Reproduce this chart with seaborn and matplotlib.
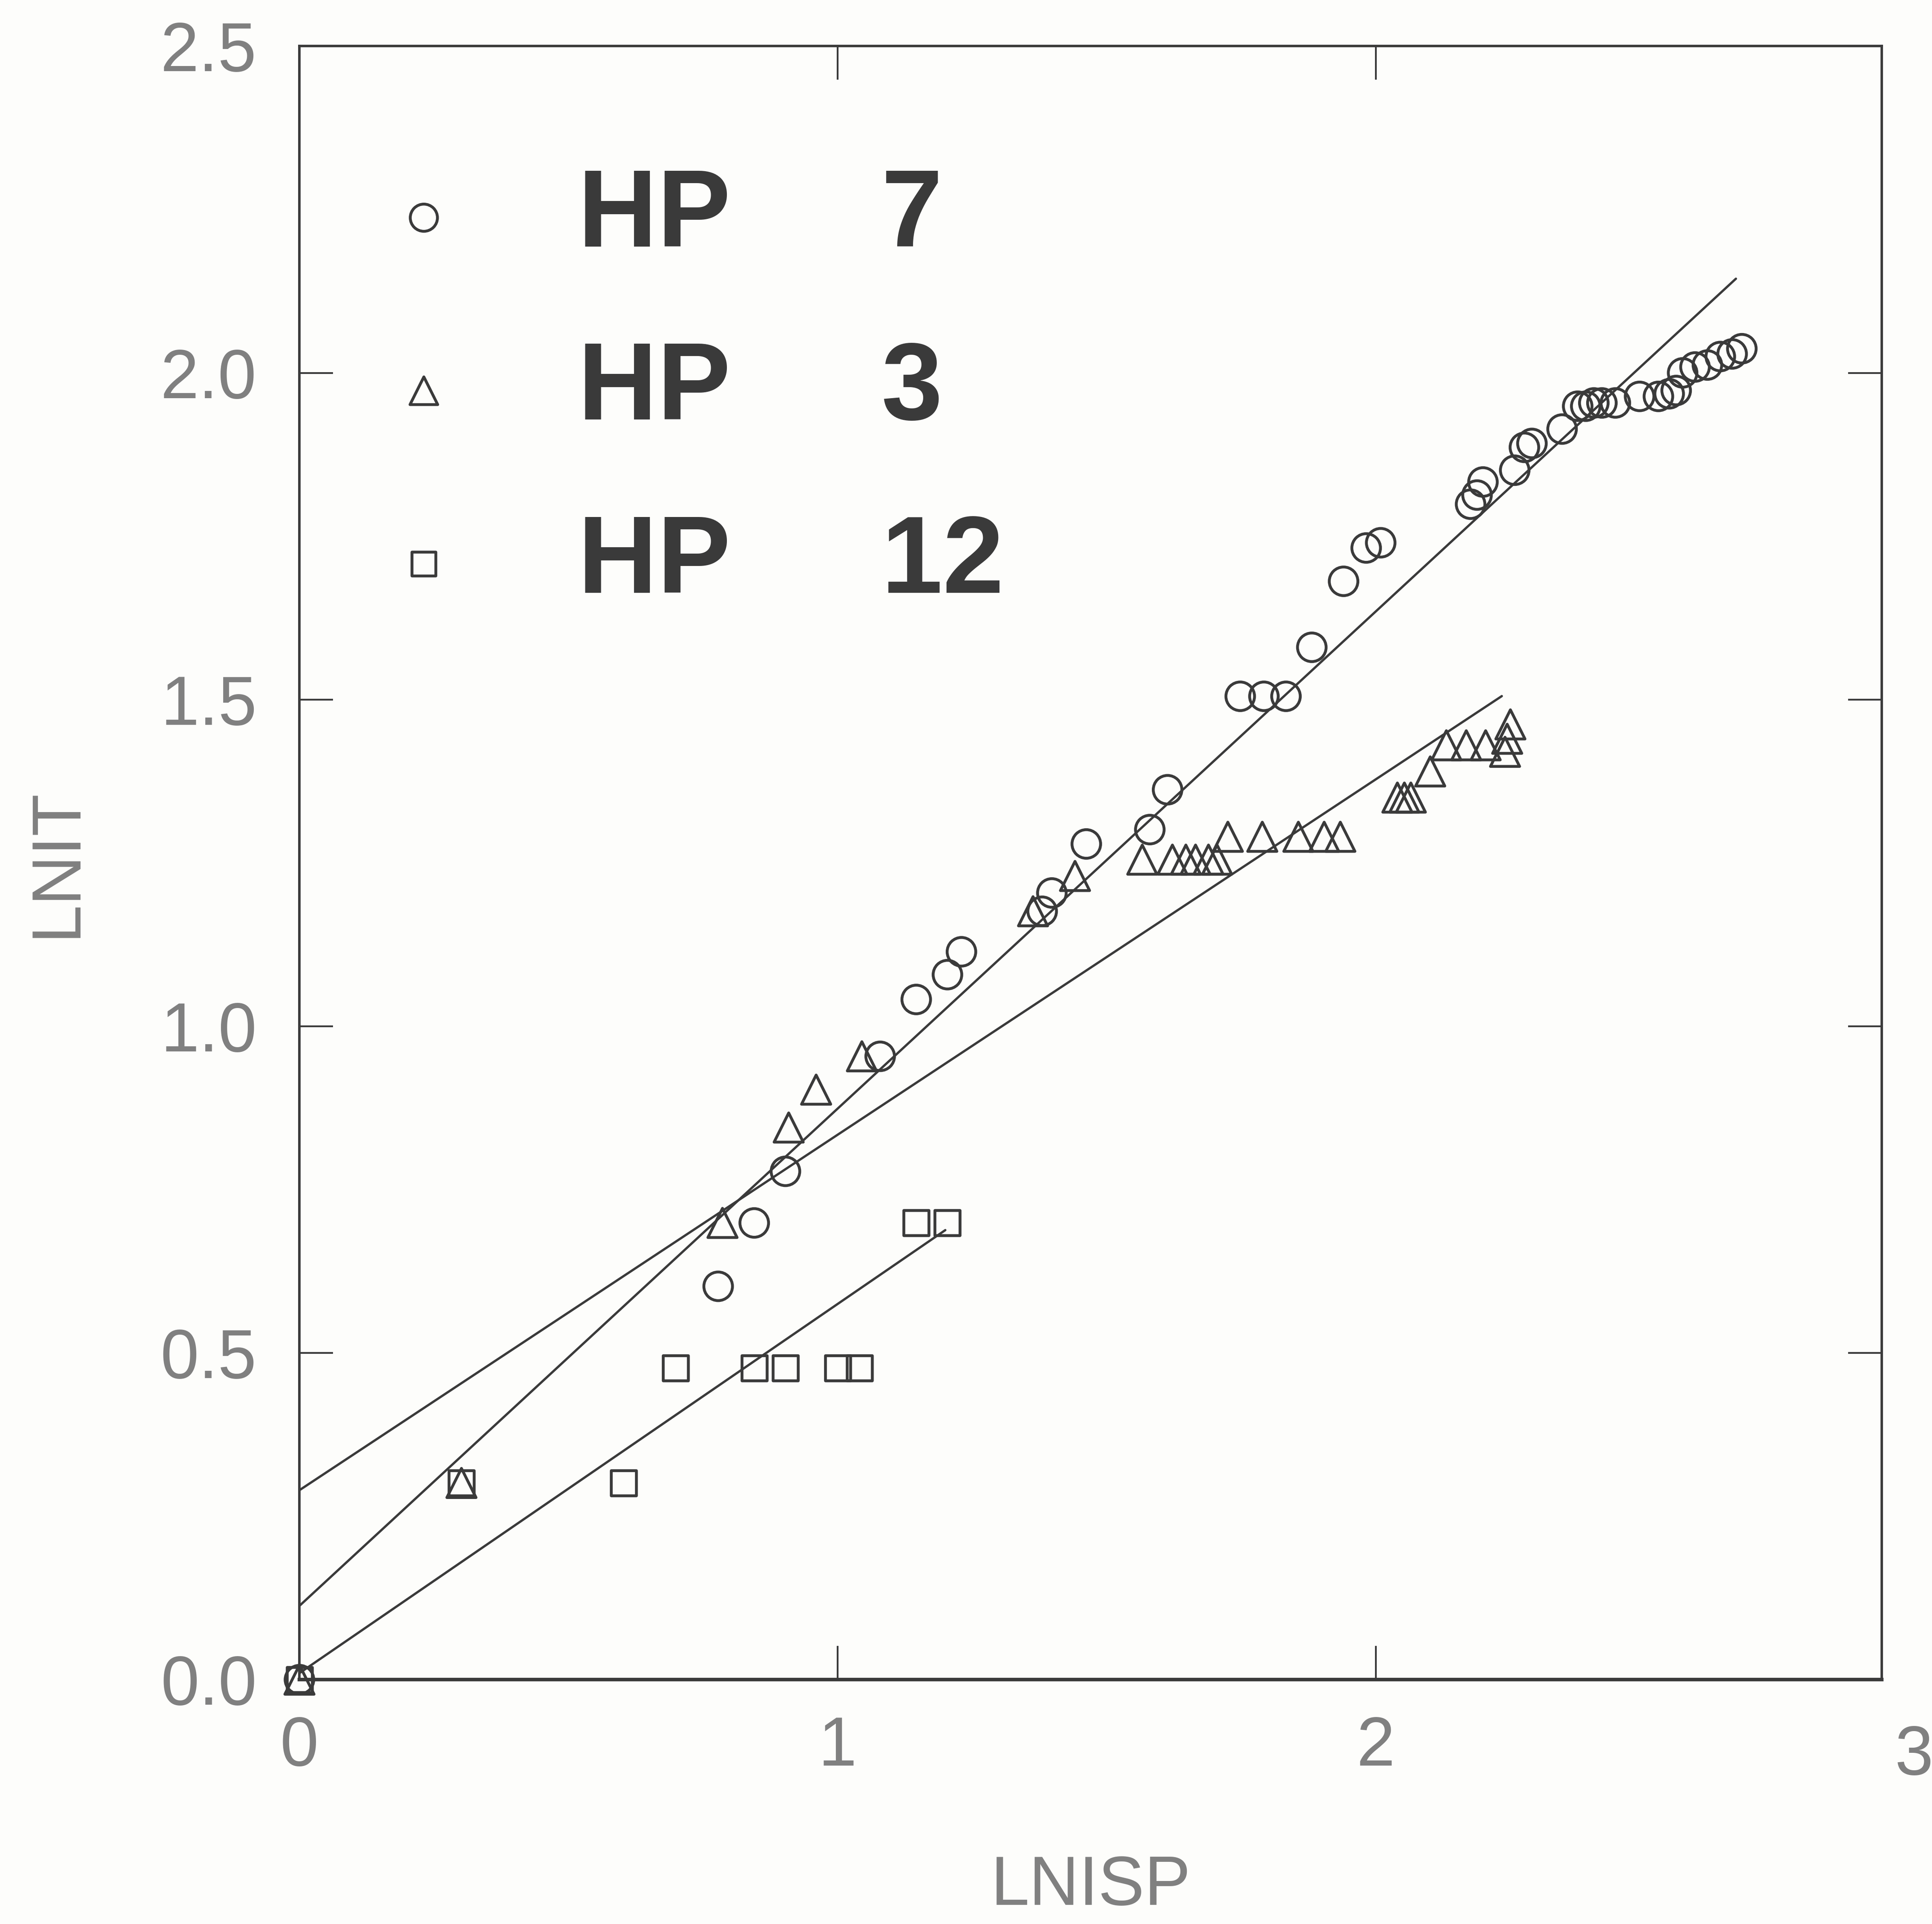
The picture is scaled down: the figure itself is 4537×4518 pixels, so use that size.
import numpy as np
import pandas as pd
import seaborn as sns
import matplotlib
matplotlib.use("Agg")
import matplotlib.pyplot as plt

# ---------------- data ----------------
hp7_x = [0.0, 0.778, 0.845, 0.903, 1.079, 1.146, 1.204, 1.230, 1.380, 1.398, 1.462,
         1.580, 1.613, 1.748, 1.792, 1.833, 1.881, 1.940, 1.982, 2.009,
         2.176, 2.188, 2.199, 2.258, 2.276, 2.290, 2.346,
         2.375, 2.390, 2.405, 2.420, 2.445,
         2.490, 2.525, 2.545, 2.558,
         2.570, 2.593, 2.616, 2.640, 2.662, 2.680]
hp7_y = [0.0, 0.602, 0.699, 0.778, 0.954, 1.041, 1.079, 1.114, 1.176, 1.204, 1.279,
         1.301, 1.362, 1.505, 1.505, 1.505, 1.580, 1.681, 1.732, 1.740,
         1.799, 1.813, 1.833, 1.851, 1.886, 1.892, 1.914,
         1.949, 1.949, 1.954, 1.954, 1.954,
         1.964, 1.964, 1.968, 1.973,
         2.000, 2.009, 2.012, 2.025, 2.029, 2.037]

hp3_x = [0.0, 0.301, 0.786, 0.909, 0.960, 1.045, 1.363, 1.441,
         1.566, 1.622, 1.647, 1.665, 1.689, 1.705,
         1.725, 1.789, 1.856, 1.904, 1.934,
         2.040, 2.053, 2.065, 2.101,
         2.131, 2.168, 2.204, 2.240, 2.244, 2.250]
hp3_y = [0.0, 0.301, 0.699, 0.845, 0.903, 0.954, 1.176, 1.230,
         1.255, 1.255, 1.255, 1.255, 1.255, 1.255,
         1.290, 1.290, 1.290, 1.290, 1.290,
         1.350, 1.350, 1.350, 1.390,
         1.430, 1.430, 1.430, 1.420, 1.440, 1.462]

hp12_x = [0.0, 0.301, 0.602, 0.699, 0.845, 0.903, 1.000, 1.041, 1.146, 1.204]
hp12_y = [0.0, 0.301, 0.301, 0.477, 0.477, 0.477, 0.477, 0.477, 0.699, 0.699]

series_labels = ["HP     7", "HP     3", "HP     12"]

# fitted lines: intercept, slope, x range end
fit_intercept = [0.113, 0.290, 0.010]
fit_slope = [0.761, 0.544, 0.565]
fit_xmax = [2.669, 2.234, 1.200]

x_ticks = [0, 1, 2, 3]
y_ticks = [0.0, 0.5, 1.0, 1.5, 2.0, 2.5]
y_ticklabels = ["0.0", "0.5", "1.0", "1.5", "2.0", "2.5"]

# ---------------- style ----------------
sns.set_theme(style="white")
plt.rcParams['font.family'] = ['Liberation Sans', 'DejaVu Sans']

W, H, DPI = 4537, 4518, 300
fig = plt.figure(figsize=(W / DPI, H / DPI), dpi=DPI, facecolor="#fdfdfb")
ax = fig.add_axes([0.155, 0.127, 0.819, 0.849])
ax.set_facecolor("#fdfdfb")

ink = "#3a3a3a"
grey = "#808080"
tick_fs = 39

markers = ["o", "^", "s"]
sizes = [260, 270, 200]
xs = [hp7_x, hp3_x, hp12_x]
ys = [hp7_y, hp3_y, hp12_y]

for i in range(3):
    df = pd.DataFrame({"x": xs[i], "y": ys[i]})
    sns.scatterplot(data=df, x="x", y="y", marker=markers[i], s=sizes[i],
                    facecolors="none", edgecolor=ink, linewidth=1.6,
                    label=series_labels[i], ax=ax, zorder=3, clip_on=False)

for i in range(3):
    lx = np.array([0.0, fit_xmax[i]])
    ly = fit_intercept[i] + fit_slope[i] * lx
    sns.lineplot(x=lx, y=ly, color=ink, linewidth=1.3, ax=ax, legend=False,
                 zorder=2)

ax.set_xlim(0, 2.94)
ax.set_ylim(0, 2.5)

ax.set_xticks(x_ticks[:3])
ax.set_xticklabels([str(t) for t in x_ticks[:3]])
ax.text(x_ticks[3], -0.068, str(x_ticks[3]), ha="center", va="top",
        fontsize=tick_fs, color=grey, clip_on=False,
        transform=ax.transData)
ax.set_yticks(y_ticks)
ax.set_yticklabels(y_ticklabels)

ax.tick_params(axis="both", which="major", direction="in", length=19, width=1.0,
               color=ink, labelsize=tick_fs, labelcolor=grey,
               top=True, right=True, bottom=True, left=True)
ax.tick_params(axis="x", pad=20)
ax.tick_params(axis="y", pad=24)

for sp in ax.spines.values():
    sp.set_color(ink)
    sp.set_linewidth(1.4)
ax.spines["bottom"].set_linewidth(2.0)

ax.set_xlabel("LNISP", fontsize=tick_fs, color=grey, labelpad=42)
ax.set_ylabel("LNIT", fontsize=tick_fs, color=grey, labelpad=40)

leg = ax.legend(loc="upper left", bbox_to_anchor=(0.023, 0.953), frameon=False,
                prop={"weight": "bold", "size": 62}, labelcolor=ink,
                markerscale=0.95, handletextpad=1.0, labelspacing=0.64,
                borderaxespad=0.0, handlelength=0.8)

fig.savefig("out.png", dpi=DPI, facecolor=fig.get_facecolor())
